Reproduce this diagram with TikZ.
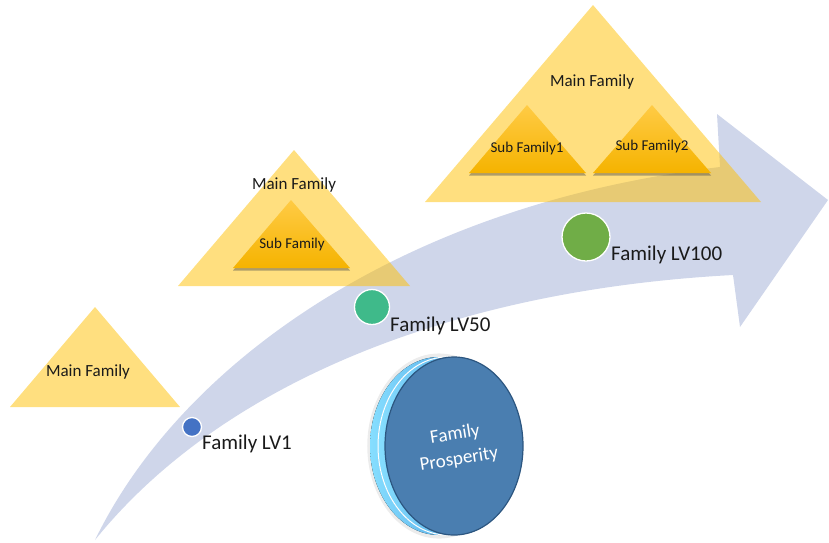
\documentclass[tikz,border=0pt]{standalone}
\usepackage{fontspec}
\setmainfont{Carlito}
\usetikzlibrary{shadows}
\definecolor{arrowc}{HTML}{CFD6EA}
\definecolor{mainy}{HTML}{FFC000}
\definecolor{subtop}{HTML}{FFCB45}
\definecolor{subbot}{HTML}{F5B300}
\definecolor{lv1}{HTML}{4472C4}
\definecolor{lv50}{HTML}{3FBA8A}
\definecolor{lv100}{HTML}{70AD47}
\definecolor{coinface}{HTML}{4A7EB0}
\definecolor{coinedge}{HTML}{2C5680}
\definecolor{rimlight}{HTML}{86DEFF}
\definecolor{rimdark}{HTML}{3E90DA}
\definecolor{txt}{HTML}{1A1A1A}
\tikzset{
  maintri/.style={fill=mainy, fill opacity=0.5, draw=none},
  subtri/.style={top color=subtop, bottom color=subbot, draw=none,
    drop shadow={shadow xshift=0pt, shadow yshift=-2.5pt, opacity=0.45, fill=black!70}},
  maintxt/.style={text=txt, font=\fontsize{17}{20}\selectfont, inner sep=0pt},
  subtxt/.style={text=txt, font=\fontsize{15}{18}\selectfont, inner sep=0pt},
  lvtxt/.style={text=txt, font=\fontsize{21}{24}\selectfont, inner sep=0pt, anchor=west},
  dot/.style={circle, draw=white, line width=1.3pt, inner sep=0pt},
}
\begin{document}
\begin{tikzpicture}[x=1pt,y=-1pt]
\useasboundingbox (0,0) rectangle (829,542);
% big curved arrow
\fill[arrowc] (95,540) .. controls (180,365) and (400,205) .. (720,167)
  -- (717,114) -- (828,200) -- (740,327) -- (733,275)
  .. controls (450,290) and (220,385) .. (95,540) -- cycle;
% small triangle
\path[maintri] (95,307) -- (180,407) -- (10,407) -- cycle;
\node[maintxt] (m1) at (88,372) {Main Family};
% middle triangle
\path[maintri] (294,150) -- (410,286) -- (178,286) -- cycle;
\node[maintxt] (m2) at (294,185) {Main Family};
\path[subtri] (291,200) -- (350,268) -- (233,268) -- cycle;
\node[subtxt] (s0) at (292,244) {Sub Family};
% big triangle
\path[maintri] (593,5) -- (761,202) -- (425,202) -- cycle;
\node[maintxt] (m3) at (592,82) {Main Family};
\path[subtri] (527,105) -- (586,173) -- (469,173) -- cycle;
\node[subtxt] (s1) at (527,148) {Sub Family1};
\path[subtri] (652,105) -- (711,173) -- (593,173) -- cycle;
\node[subtxt] (s2) at (652,146) {Sub Family2};
% level dots
\node[dot, fill=lv1, minimum size=19pt] (d1) at (192,427) {};
\node[lvtxt] (l1) at (202,444) {Family LV1};
\node[dot, fill=lv50, minimum size=35pt] (d2) at (372,307) {};
\node[lvtxt] (l2) at (390,326) {Family LV50};
\node[dot, fill=lv100, minimum size=48pt] (d3) at (586,237) {};
\node[lvtxt] (l3) at (611,255) {Family LV100};
% coin
\fill[left color=rimlight, right color=rimdark,
  drop shadow={shadow xshift=0pt, shadow yshift=0pt, opacity=0.15, shadow scale=1.04}]
  (439,446) ellipse [x radius=69, y radius=89];
\fill[left color=rimlight, right color=rimdark, draw=white, line width=1pt]
  (447,446) ellipse [x radius=69, y radius=89];
\fill[coinface, draw=coinedge, line width=1.2pt] (454,446) ellipse [x radius=69, y radius=89];
\node[rotate=9, align=center, text=white, inner sep=0pt,
  font=\fontsize{19}{25}\selectfont] (cp) at (457,447) {Family\\Prosperity};
\end{tikzpicture}
\end{document}
